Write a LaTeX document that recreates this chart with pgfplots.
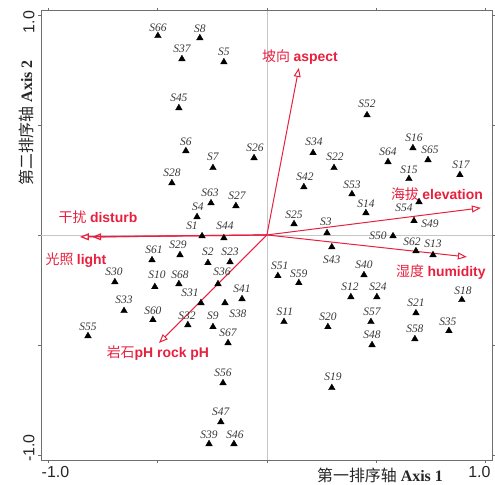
\documentclass[border=0pt]{standalone}
\usepackage{fontspec}
\setmainfont{Liberation Serif}
\setsansfont{Liberation Sans}
\newfontfamily\cjk{Noto Sans CJK SC}
\usepackage{pgfplots}
\usepackage{pgfplotstable}
\pgfplotsset{compat=1.18}
\usetikzlibrary{arrows.meta}
\definecolor{arrowred}{RGB}{230,32,62}
\definecolor{labgray}{RGB}{55,55,55}
\definecolor{framegray}{RGB}{110,110,110}

\pgfplotstableread{
label x y lx ly
S1 -0.297 -0.005 -0.343 0.041
S2 -0.270 -0.127 -0.270 -0.077
S3 0.275 0.009 0.270 0.059
S4 -0.320 0.082 -0.316 0.127
S5 -0.197 0.786 -0.197 0.832
S6 -0.371 0.382 -0.371 0.423
S7 -0.247 0.305 -0.247 0.355
S8 -0.307 0.895 -0.307 0.936
S9 -0.247 -0.418 -0.247 -0.368
S10 -0.513 -0.236 -0.503 -0.182
S11 0.078 -0.395 0.082 -0.350
S12 0.384 -0.282 0.380 -0.236
S13 0.760 -0.091 0.760 -0.041
S14 0.453 0.100 0.453 0.141
S15 0.650 0.255 0.650 0.295
S16 0.668 0.395 0.673 0.441
S17 0.883 0.273 0.888 0.318
S18 0.892 -0.295 0.897 -0.255
S19 0.297 -0.695 0.302 -0.645
S20 0.279 -0.418 0.279 -0.373
S21 0.682 -0.355 0.682 -0.309
S22 0.307 0.305 0.311 0.355
S23 -0.169 -0.123 -0.169 -0.077
S24 0.503 -0.282 0.508 -0.236
S25 0.124 0.050 0.124 0.091
S26 -0.059 0.350 -0.055 0.395
S27 -0.142 0.132 -0.137 0.177
S28 -0.435 0.236 -0.435 0.282
S29 -0.398 -0.091 -0.407 -0.045
S30 -0.696 -0.214 -0.700 -0.168
S31 -0.302 -0.309 -0.352 -0.264
S32 -0.362 -0.409 -0.366 -0.368
S33 -0.654 -0.345 -0.654 -0.295
S34 0.211 0.373 0.215 0.423
S35 0.833 -0.436 0.828 -0.395
S36 -0.224 -0.223 -0.206 -0.168
S37 -0.389 0.800 -0.389 0.845
S38 -0.192 -0.309 -0.133 -0.359
S39 -0.265 -0.950 -0.265 -0.909
S40 0.444 -0.182 0.444 -0.136
S41 -0.114 -0.291 -0.114 -0.245
S42 0.169 0.218 0.174 0.264
S43 0.297 -0.055 0.297 -0.114
S44 -0.197 -0.014 -0.192 0.041
S45 -0.403 0.577 -0.403 0.623
S46 -0.151 -0.950 -0.146 -0.909
S47 -0.211 -0.850 -0.211 -0.805
S48 0.481 -0.500 0.481 -0.455
S49 0.673 0.064 0.746 0.050
S50 0.577 -0.005 0.508 -0.005
S51 0.050 -0.186 0.059 -0.141
S52 0.458 0.545 0.458 0.595
S53 0.389 0.186 0.389 0.227
S54 0.696 0.150 0.627 0.123
S55 -0.819 -0.459 -0.819 -0.418
S56 -0.201 -0.673 -0.201 -0.627
S57 0.476 -0.395 0.481 -0.350
S58 0.677 -0.473 0.677 -0.427
S59 0.146 -0.218 0.146 -0.177
S60 -0.522 -0.386 -0.522 -0.345
S61 -0.526 -0.114 -0.517 -0.068
S62 0.682 -0.073 0.664 -0.032
S63 -0.256 0.145 -0.261 0.191
S64 0.554 0.332 0.554 0.377
S65 0.737 0.341 0.746 0.386
S66 -0.499 0.905 -0.499 0.941
S67 -0.178 -0.491 -0.178 -0.445
S68 -0.403 -0.223 -0.398 -0.182
}\sites

\begin{document}
\begin{tikzpicture}
\begin{axis}[
  at={(41bp,25bp)}, anchor=south west,
  scale only axis, width=451bp, height=449bp,
  xmin=-1.034, xmax=1.030, ymin=-1.023, ymax=1.018,
  clip=false,
  xtick={-1,-0.5,0,0.5,1}, ytick={-1,-0.5,0,0.5,1},
  xticklabels={{\hspace*{14bp}-1.0},{},{},{},{1.0\hspace*{12bp}}},
  yticklabels={{\hspace*{14bp}-1.0},{},{},{},{1.0\hspace*{14bp}}},
  /pgf/number format/assume math mode=true,
  tick align=outside, major tick length=3bp,
  tick style={framegray, line width=0.8pt},
  axis line style={framegray, line width=1pt},
  ticklabel style={font=\sffamily\fontsize{16}{16}\selectfont, text=black!85},
  yticklabel style={rotate=90, anchor=south},
]
% zero reference lines
\addplot[gray!45, line width=0.5pt] coordinates {(0,-1.023) (0,1.018)};
\addplot[gray!45, line width=0.5pt] coordinates {(-1.034,0) (1.030,0)};
% environmental arrows
\addplot[arrowred, line width=1.2pt, -{Triangle[open, length=9pt, width=7pt]}] coordinates {(0,0) (-0.856,-0.009)};
\addplot[arrowred, line width=1.2pt, -{Triangle[open, length=9pt, width=7pt]}] coordinates {(0,0) (-0.800,-0.009)};
\addplot[arrowred, line width=1pt, -{Triangle[open, length=9pt, width=7pt]}] coordinates {(0,0) (0.146,0.759)};
\addplot[arrowred, line width=1pt, -{Triangle[open, length=9pt, width=7pt]}] coordinates {(0,0) (0.979,0.123)};
\addplot[arrowred, line width=1pt, -{Triangle[open, length=9pt, width=7pt]}] coordinates {(0,0) (0.915,-0.100)};
\addplot[arrowred, line width=1pt, -{Triangle[open, length=9pt, width=7pt]}] coordinates {(0,0) (-0.494,-0.491)};
% sites
\addplot[only marks, mark=triangle*, mark size=3.8pt, black] table[x=x, y=y] {\sites};
\addplot[only marks, mark=none, nodes near coords, point meta=explicit symbolic,
  nodes near coords style={anchor=center, inner sep=0pt, text=labgray,
    font=\fontsize{11.5}{12}\selectfont\itshape}]
  table[x=lx, y=ly, meta=label] {\sites};
% arrow labels
\begin{scope}[every node/.style={text=arrowred, font=\fontsize{14}{14}\selectfont}]
\node at (axis cs:0.151,0.809) {{\cjk 坡向} {\sffamily\bfseries aspect}};
\node at (axis cs:0.778,0.186) {{\cjk 海拔} {\sffamily\bfseries elevation}};
\node at (axis cs:0.796,-0.168) {{\cjk 湿度} {\sffamily\bfseries humidity}};
\node at (axis cs:-0.773,0.082) {{\cjk 干扰} {\sffamily\bfseries disturb}};
\node at (axis cs:-0.874,-0.114) {{\cjk 光照} {\sffamily\bfseries light}};
\node at (axis cs:-0.499,-0.536) {{\cjk 岩石}{\sffamily\bfseries pH rock pH}};
\end{scope}
\end{axis}
\node[font=\fontsize{16}{16}\selectfont, text=black!85] at (380bp,10bp) {{\cjk 第一排序轴} \textbf{Axis 1}};
\node[font=\fontsize{16}{16}\selectfont, text=black!85, rotate=90] at (26bp,362bp) {{\cjk 第二排序轴} \textbf{Axis 2}};
\pgfresetboundingbox
\path[use as bounding box] (0,0) rectangle (495bp,485bp);
\end{tikzpicture}
\end{document}
